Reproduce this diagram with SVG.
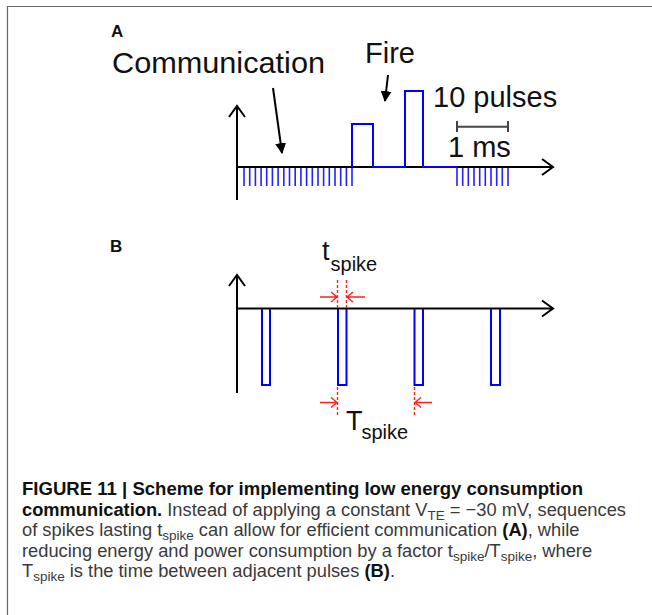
<svg xmlns="http://www.w3.org/2000/svg" width="652" height="615" viewBox="0 0 652 615">
<style>
.ax{stroke:#000;stroke-width:2;fill:none}
.bl{stroke:#0000ff;stroke-width:2;fill:none}
.tk{stroke:#2222ff;stroke-width:1.6;fill:none}
.rd{stroke:#ff2020;stroke-width:1.4;fill:none}
.rdd{stroke:#ff2020;stroke-width:1.4;fill:none;stroke-dasharray:3,2}
.lab{font-family:"Liberation Sans",Arial,sans-serif;fill:#111}
.pl{font-family:"Liberation Sans",Arial,sans-serif;font-weight:bold;font-size:17px;fill:#111}
.cap{font-family:"Liberation Sans",Arial,sans-serif;font-size:18.3px;fill:#3a3a3a}
.b{font-weight:bold;fill:#111}
.sb{font-size:13.5px}
</style>
<defs>
<marker id="fa" viewBox="0 0 10 10" refX="9" refY="5" markerWidth="5.5" markerHeight="5.5" orient="auto" markerUnits="strokeWidth">
<path d="M0,0 L10,5 L0,10 z" fill="#000"/>
</marker>
</defs>
<path d="M7.5,615 V6.5 H652" stroke="#666" stroke-width="1.2" fill="none"/>

<g id="panelA">
<text class="pl" x="111" y="37">A</text>
<g id="axesA">
<path class="ax" d="M237,200 V107 M229,117 L237,106 L245,117"/>
<path class="ax" d="M237,167 H552 M542,159 L553,167 L542,175"/>
</g>
<g id="waveA">
<path class="bl" d="M352,167 V124 H373 V167 H405 V91 H423 V167 H458"/>
<path class="tk" d="M244,168V186 M249.7,168V186 M255.4,168V186 M261.1,168V186 M266.7,168V186 M272.4,168V186 M278.1,168V186 M283.8,168V186 M289.5,168V186 M295.2,168V186 M300.9,168V186 M306.6,168V186 M312.3,168V186 M318,168V186 M323.6,168V186 M329.3,168V186 M335,168V186 M340.7,168V186 M346.4,168V186 M352,168V186"/>
<path class="tk" d="M457,168V186 M462.7,168V186 M468.3,168V186 M474,168V186 M479.7,168V186 M485.3,168V186 M491,168V186 M496.7,168V186 M502.3,168V186 M508,168V186"/>
</g>
<g id="labelsA">
<text class="lab" x="112" y="73" font-size="29" textLength="213" lengthAdjust="spacingAndGlyphs">Communication</text>
<text class="lab" x="365" y="63" font-size="29">Fire</text>
<text class="lab" x="433" y="107" font-size="29">10 pulses</text>
<text class="lab" x="448" y="157" font-size="29">1 ms</text>
</g>
<g id="connectorsA">
<line x1="273" y1="88" x2="282" y2="153" stroke="#000" stroke-width="2" marker-end="url(#fa)"/>
<line x1="388" y1="75" x2="385" y2="101" stroke="#000" stroke-width="2" marker-end="url(#fa)"/>
<path d="M457,121 V132 M457,126.7 H508 M508,121 V132" stroke="#444" stroke-width="2" fill="none"/>
</g>
</g>

<g id="panelB">
<text class="pl" x="110" y="252">B</text>
<g id="axesB">
<path class="ax" d="M237,393 V276 M229,286 L237,275 L245,286"/>
<path class="ax" d="M237,308.5 H552 M542,300.5 L553,308.5 L542,316.5"/>
</g>
<g id="spikesB">
<path class="bl" d="M262,309 V385 H270 V309"/>
<path class="bl" d="M338,309 V385 H346.5 V309"/>
<path class="bl" d="M414.5,309 V385 H423 V309"/>
<path class="bl" d="M491,309 V385 H500 V309"/>
</g>
<g id="dimsB">
<path class="rdd" d="M337.5,280 V309 M346.5,280 V309"/>
<path class="rd" d="M320,297 H337 M331,292 L337,297 L331,302"/>
<path class="rd" d="M365,297 H347 M353,292 L347,297 L353,302"/>
<path class="rdd" d="M337.5,387 V417 M414.5,387 V417"/>
<path class="rd" d="M320,402.5 H337 M331,397.5 L337,402.5 L331,407.5"/>
<path class="rd" d="M432,402.5 H415 M421,397.5 L415,402.5 L421,407.5"/>
</g>
<g id="labelsB">
<text class="lab" x="322" y="260" font-size="27">t<tspan font-size="20" dx="1" dy="11">spike</tspan></text>
<text class="lab" x="346" y="430" font-size="27">T<tspan font-size="20" dx="-1" dy="9">spike</tspan></text>
</g>
</g>

<g id="caption">
<text class="cap b" x="22" y="495" textLength="561" lengthAdjust="spacingAndGlyphs">FIGURE 11 | Scheme for implementing low energy consumption</text>
<text class="cap" x="22" y="515.5"><tspan class="b">communication.</tspan> Instead of applying a constant V<tspan class="sb" dy="4">TE</tspan><tspan dy="-4"> = −30 mV, sequences</tspan></text>
<text class="cap" x="22" y="536">of spikes lasting t<tspan class="sb" dy="4">spike</tspan><tspan dy="-4"> can allow for efficient communication </tspan><tspan class="b">(A)</tspan>, while</text>
<text class="cap" x="22" y="556.5">reducing energy and power consumption by a factor t<tspan class="sb" dy="4">spike</tspan><tspan dy="-4">/T</tspan><tspan class="sb" dy="4">spike</tspan><tspan dy="-4">, where</tspan></text>
<text class="cap" x="22" y="577">T<tspan class="sb" dy="4">spike</tspan><tspan dy="-4"> is the time between adjacent pulses </tspan><tspan class="b">(B)</tspan>.</text>
</g>
</svg>
